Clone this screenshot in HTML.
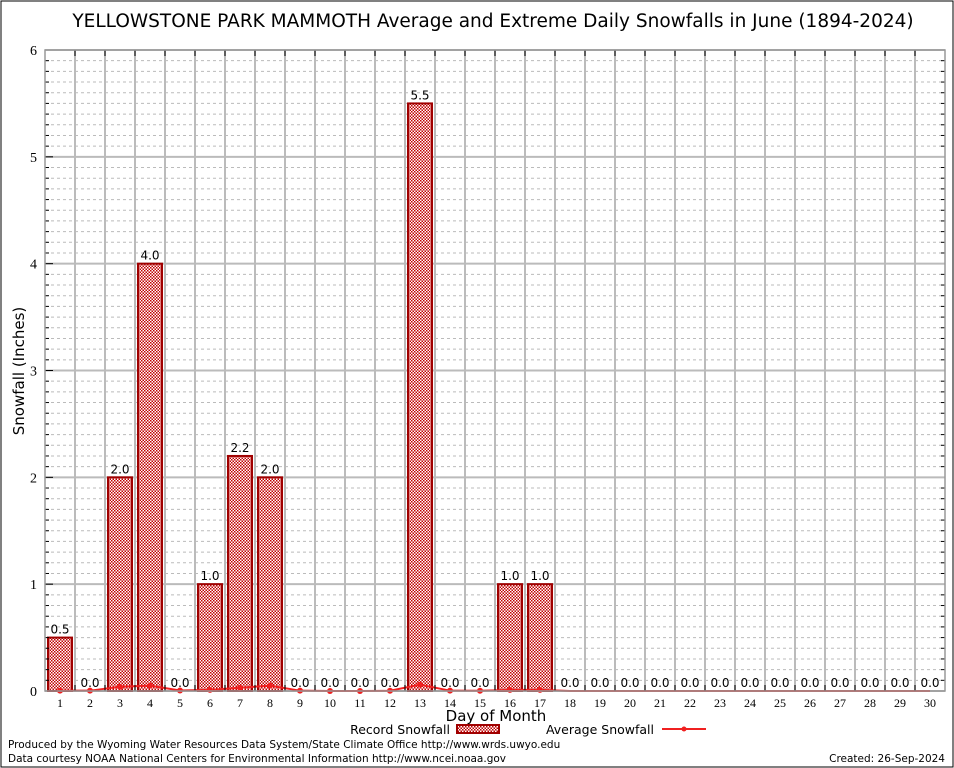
<!DOCTYPE html>
<html><head><meta charset="utf-8"><style>
body{margin:0;background:#fff;}
svg{display:block;font-family:"DejaVu Sans","Liberation Sans",sans-serif;}
</style></head><body>
<svg id="chart" width="954" height="768" viewBox="0 0 954 768">
<defs>
<pattern id="chk" width="3" height="3" patternUnits="userSpaceOnUse">
<rect width="3" height="3" fill="#fff"/>
<rect width="1.5" height="1.5" fill="#c00000"/>
<rect x="1.5" y="1.5" width="1.5" height="1.5" fill="#c00000"/>
</pattern>
</defs>
<rect x="1" y="1" width="952" height="766" fill="#fff" stroke="#000" stroke-width="1"/>
<text x="493" y="27" font-size="18.5" text-anchor="middle">YELLOWSTONE PARK MAMMOTH Average and Extreme Daily Snowfalls in June (1894-2024)</text>
<g id="grid"></g>
<g id="bars"></g>
<g id="avg"></g>
<g id="axes"></g>
<text transform="translate(24,371) rotate(-90)" font-size="15" text-anchor="middle">Snowfall (Inches)</text>
<text x="496" y="721" font-size="15" text-anchor="middle">Day of Month</text>
<g>
<text x="450" y="734" font-size="12.5" text-anchor="end">Record Snowfall</text>
<rect x="457" y="725" width="42" height="8" fill="url(#chk)" stroke="#a00000" stroke-width="2"/>
<text x="654" y="734" font-size="12.5" text-anchor="end">Average Snowfall</text>
<line x1="662" y1="729" x2="706" y2="729" stroke="#f02020" stroke-width="2"/>
<circle cx="684" cy="729" r="2.5" fill="#f02020"/>
</g>
<text x="8" y="748" font-size="10.5">Produced by the Wyoming Water Resources Data System/State Climate Office http://www.wrds.uwyo.edu</text>
<text x="8" y="762" font-size="10.5">Data courtesy NOAA National Centers for Environmental Information http://www.ncei.noaa.gov</text>
<text x="945" y="762" font-size="10.5" text-anchor="end">Created: 26-Sep-2024</text>
</svg>
<script>
const days=[1,2,3,4,5,6,7,8,9,10,11,12,13,14,15,16,17,18,19,20,21,22,23,24,25,26,27,28,29,30];
const recordSnow=[0.5,0,2.0,4.0,0,1.0,2.2,2.0,0,0,0,0,5.5,0,0,1.0,1.0,0,0,0,0,0,0,0,0,0,0,0,0,0];
const avgSnow=[0.004,0.003,0.04,0.05,0.005,0.01,0.03,0.05,0.003,0,0,0.002,0.06,0.003,0.002,0.01,0.01,0,0,0,0,0,0,0,0,0,0,0,0,0];
const yTicks=[0,1,2,3,4,5,6];
const NS="http://www.w3.org/2000/svg";
const L=45,R=945,T=50,B=691,yMax=6;
const slot=(R-L)/days.length;
function x(d){return L+(d-0.5)*slot;}
function y(v){return B-(v/yMax)*(B-T);}
function mk(tag,attrs,parent){const e=document.createElementNS(NS,tag);for(const k in attrs)e.setAttribute(k,attrs[k]);parent.appendChild(e);return e;}
const grid=document.getElementById('grid'),bars=document.getElementById('bars'),avg=document.getElementById('avg'),axes=document.getElementById('axes');
for(let i=1;i<yMax*10;i++){if(i%10===0)continue;const ln=mk('line',{x1:L,x2:R,y1:y(i/10),y2:y(i/10),stroke:'#bbb','stroke-width':1,'stroke-dasharray':'3,3'},grid);

}
yTicks.forEach(v=>{const ln=mk('line',{x1:L,x2:R,y1:y(v),y2:y(v),stroke:'#bbb','stroke-width':2},grid);


const t=mk('text',{x:L-8,y:y(v)+5,'font-size':14,'text-anchor':'end','font-family':'Liberation Serif, serif'},axes);t.textContent=v;


mk('line',{x1:L,x2:L+8,y1:y(v),y2:y(v),stroke:'#000','stroke-width':1},axes);});
for(let i=1;i<days.length;i++){const ln=mk('line',{x1:L+i*slot,x2:L+i*slot,y1:T,y2:B,stroke:'#bbb','stroke-width':2},grid);


mk('line',{x1:L+i*slot,x2:L+i*slot,y1:T,y2:T+6,stroke:'#000'},axes);
mk('line',{x1:L+i*slot,x2:L+i*slot,y1:B,y2:B-6,stroke:'#000'},axes);}
for(let i=1;i<yMax*10;i++){if(i%10===0)continue;mk('line',{x1:L,x2:L+4,y1:y(i/10),y2:y(i/10),stroke:'#000'},axes);mk('line',{x1:R,x2:R-4,y1:y(i/10),y2:y(i/10),stroke:'#000'},axes);}
const fr=mk('rect',{x:L,y:T,width:R-L,height:B-T,fill:'none',stroke:'#999','stroke-width':1.5},axes);


days.forEach((d,i)=>{const v=recordSnow[i];
if(v>0){const r=mk('rect',{x:x(d)-12,y:y(v),width:24,height:B-y(v),fill:'url(#chk)',stroke:'#a00000','stroke-width':2},bars);

}
const t=mk('text',{x:x(d),y:y(v)-4,'font-size':12,'text-anchor':'middle'},bars);t.textContent=v.toFixed(1);


const xl=mk('text',{x:x(d),y:B+16,'font-size':12,'text-anchor':'middle','font-family':'Liberation Serif, serif'},axes);xl.textContent=d;

});
const pl=mk('polyline',{points:days.map((d,i)=>x(d)+','+y(avgSnow[i])).join(' '),fill:'none',stroke:'#f02020','stroke-width':2},avg);


days.forEach((d,i)=>{if(i>16)return;const c=mk('circle',{cx:x(d),cy:y(avgSnow[i]),r:3,fill:'#f02020'},avg);

});
</script>
</body></html>
